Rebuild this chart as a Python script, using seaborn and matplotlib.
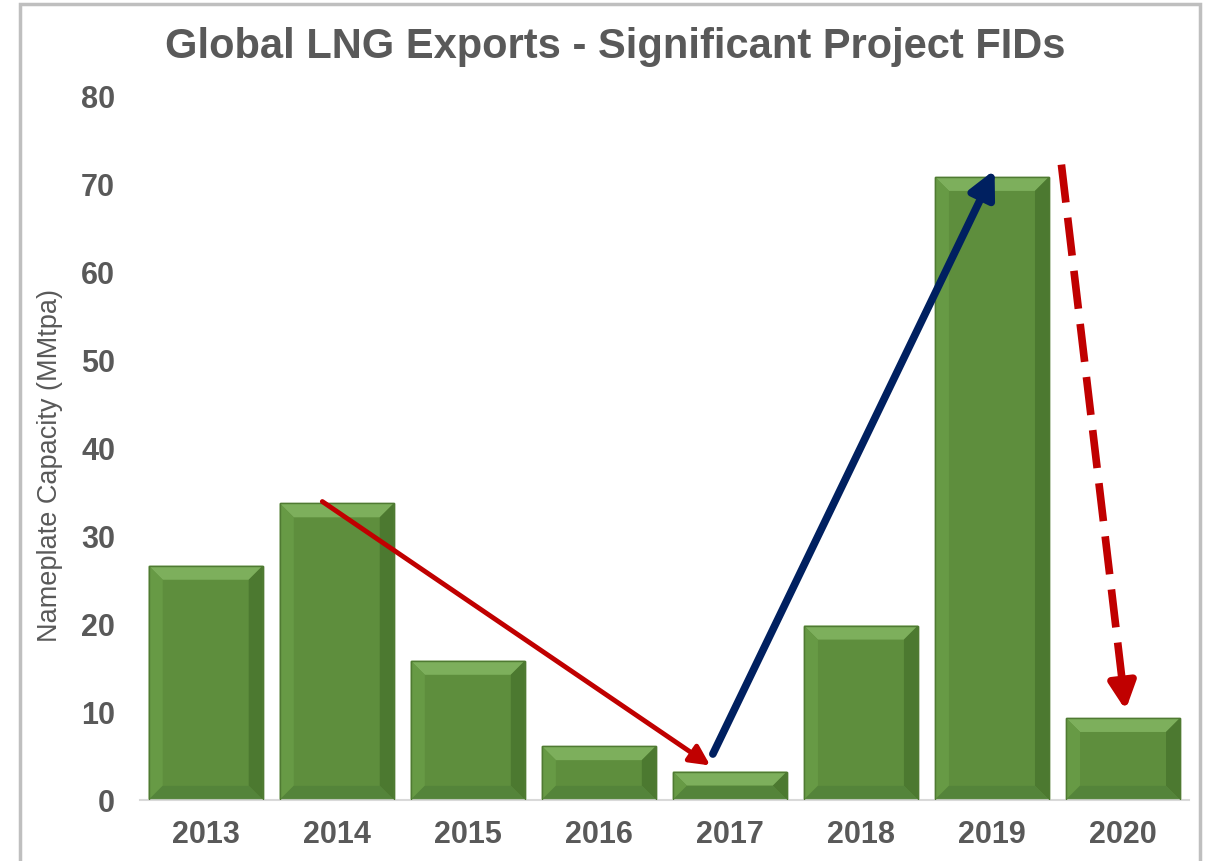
import pandas as pd
import matplotlib.pyplot as plt
import seaborn as sns
from matplotlib.patches import Polygon, Rectangle

# data
years = ["2013", "2014", "2015", "2016", "2017", "2018", "2019", "2020"]
capacity = [26.6, 33.7, 15.8, 6.1, 3.2, 19.8, 70.8, 9.3]

# arrow endpoints (x in category positions, y in MMtpa)
red_start = (0.89, 33.9)
red_end = (3.85, 3.9)
blue_start = (3.87, 5.2)
blue_end = (6.02, 71.6)
dash_start = (6.53, 72.2)
dash_end = (7.02, 10.2)

df = pd.DataFrame({"Year": years, "Capacity": capacity})

sns.set_style("white")
plt.rcParams["font.family"] = ["Liberation Sans", "DejaVu Sans"]

fig = plt.figure(figsize=(12.19, 8.62), dpi=100)
ax = fig.add_axes([0.115, 0.071, 0.86, 0.8165])

sns.barplot(
    data=df,
    x="Year",
    y="Capacity",
    color="#5E8E3D",
    saturation=1,
    width=0.87,
    edgecolor="#4F7A32",
    linewidth=1,
    ax=ax,
)

ax.set_xlim(-0.5, 7.5)
ax.set_ylim(0, 80)
ax.set_yticks(range(0, 81, 10))

# bevel look on each bar
px_x = 1048 / 8.0
px_y = 704 / 80.0
bev = 14
for p in list(ax.patches):
    x0, y0 = p.get_x(), p.get_y()
    w, h = p.get_width(), p.get_height()
    dx = bev / px_x
    dy = min(bev / px_y, h / 2)
    x1, y1 = x0 + w, y0 + h
    top = [(x0, y1), (x1, y1), (x1 - dx, y1 - dy), (x0 + dx, y1 - dy)]
    right = [(x1, y1), (x1, y0), (x1 - dx, y0 + dy), (x1 - dx, y1 - dy)]
    left = [(x0, y1), (x0, y0), (x0 + dx, y0 + dy), (x0 + dx, y1 - dy)]
    bottom = [(x0, y0), (x1, y0), (x1 - dx, y0 + dy), (x0 + dx, y0 + dy)]
    for pts, col in [(top, "#7DAF5C"), (right, "#4C7930"),
                     (left, "#679A45"), (bottom, "#54843A")]:
        ax.add_patch(Polygon(pts, closed=True, facecolor=col,
                             edgecolor="none", zorder=2.5))
    ax.add_patch(Rectangle((x0, y0), w, h, facecolor="none",
                           edgecolor="#4F7A32", linewidth=1, zorder=2.6))

# arrows
ax.annotate("", xy=red_end, xytext=red_start,
            arrowprops=dict(arrowstyle="-|>", color="#C00000", lw=3.5,
                            mutation_scale=30, shrinkA=0, shrinkB=0),
            zorder=5)
ax.annotate("", xy=blue_end, xytext=blue_start,
            arrowprops=dict(arrowstyle="-|>", color="#002060", lw=5.5,
                            mutation_scale=40, shrinkA=0, shrinkB=0),
            zorder=5)

# dashed arrow: dashed shaft plus solid head
f = 0.05
head_base = (dash_end[0] - f * (dash_end[0] - dash_start[0]),
             dash_end[1] - f * (dash_end[1] - dash_start[1]))
ax.plot([dash_start[0], head_base[0]], [dash_start[1], head_base[1]],
        color="#C00000", lw=5.5, linestyle=(0, (5, 2)),
        solid_capstyle="butt", dash_capstyle="butt", zorder=5)
ax.annotate("", xy=dash_end, xytext=head_base,
            arrowprops=dict(arrowstyle="-|>", color="#C00000", lw=5.5,
                            mutation_scale=40, shrinkA=0, shrinkB=0),
            zorder=5)

for s in ["top", "right", "left"]:
    ax.spines[s].set_visible(False)
ax.spines["bottom"].set_color("#D9D9D9")
ax.spines["bottom"].set_linewidth(1.5)

ax.tick_params(axis="both", length=0, colors="#595959", labelsize=22)
ax.tick_params(axis="x", pad=14)
ax.tick_params(axis="y", pad=18)
for lbl in ax.get_xticklabels() + ax.get_yticklabels():
    lbl.set_fontweight("bold")

ax.set_xlabel("")
ax.set_ylabel("Nameplate Capacity (MMtpa)", fontsize=19.5, color="#595959")
ax.yaxis.set_label_coords(-0.074, 0.477)

fig.text(0.505, 0.945, "Global LNG Exports - Significant Project FIDs",
         ha="center", va="center", fontsize=30, fontweight="bold",
         color="#595959")

# outer frame
fig.patches.append(Rectangle((20 / 1219, -0.05), 1180 / 1219, 1.044,
                             transform=fig.transFigure, fill=False,
                             edgecolor="#BFBFBF", linewidth=2.5))

plt.savefig("out.png", dpi=100)
